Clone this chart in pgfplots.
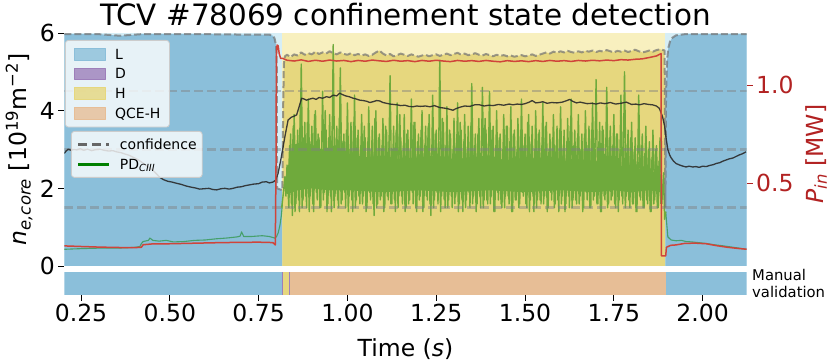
\documentclass[border=0pt]{standalone}
\usepackage{fontspec}
\setmainfont{DejaVu Sans}
\usepackage{pgfplots}
\pgfplotsset{compat=1.18}
\definecolor{Ld}{HTML}{8BBFDA}
\definecolor{Ll}{HTML}{D6EEF6}
\definecolor{Hd}{HTML}{E6D77E}
\definecolor{Hl}{HTML}{F8F0BF}
\definecolor{Dc}{HTML}{9D7FBA}
\definecolor{Qc}{HTML}{E7BE96}
\definecolor{grnH}{HTML}{6FAA3C}
\definecolor{grnL}{HTML}{46A06C}
\definecolor{redP}{HTML}{D0443A}
\definecolor{redax}{HTML}{B22222}
\definecolor{nblack}{HTML}{2B2B2B}
\newcommand{\tickfont}{\fontsize{23.5bp}{28bp}\selectfont}
\pgfplotsset{base/.style={scale only axis, width=682.4bp, xmin=0.203, xmax=2.124,
  axis line style={draw=none}, tick style={line width=0.8bp, black}, major tick length=6bp,
  tick align=outside, /pgf/number format/assume math mode=true,
  tick label style={font=\tickfont}, label style={font=\tickfont}},
  lgd/.style={draw=black!20, line width=0.8bp, fill=white, fill opacity=0.8, text opacity=1,
  rounded corners=3bp, font=\fontsize{14bp}{17bp}\selectfont, row sep=4.9bp, column sep=9.3bp,
  nodes={inner xsep=0bp, inner ysep=0bp, text height=12.5bp, text depth=2.3bp}}}
\begin{document}
\begin{tikzpicture}
\useasboundingbox (0,0) rectangle (830bp,362bp);
% ---------- top panel, left axis ----------
\begin{axis}[base, at={(64.3bp,96bp)}, anchor=south west, height=233bp,
  ymin=0, ymax=6, ytick={0,2,4,6}, xtick=\empty, ytick pos=left,
  title={TCV \#78069 confinement state detection},
  title style={font=\fontsize{29.4bp}{34bp}\selectfont, at={(axis description cs:0.5,1)}, anchor=base, yshift=2bp, inner sep=0bp},
  ylabel={{\itshape n\textsubscript{e,core}} [10\textsuperscript{19}m\textsuperscript{−2}]},
  ylabel style={at={(axis description cs:-0.0547,0.5)}, anchor=base, inner sep=0bp},
  line join=round]
% light backgrounds
\addplot[fill=Ll, draw=none] coordinates {(0.203,0)(0.203,6)(0.817,6)(0.817,0)} -- cycle;
\addplot[fill=Hl, draw=none] coordinates {(0.817,0)(0.817,6)(1.895,6)(1.895,0)} -- cycle;
\addplot[fill=Ll, draw=none] coordinates {(1.895,0)(1.895,6)(2.124,6)(2.124,0)} -- cycle;
% confidence fills
\addplot[fill=Ld, draw=none] coordinates {(0.203,5.97)(0.30,5.97)(0.33,5.95)(0.36,5.93)(0.39,5.95)(0.42,5.97)(0.60,5.97)(0.70,5.96)(0.78,5.96)(0.790,5.93)(0.795,5.86)(0.799,5.68)(0.801,5.3)(0.802,2.0)(0.817,1.95)} \closedcycle;
\addplot[fill=Hd, draw=none] coordinates {(0.817,1.95)(0.819,4.0)(0.821,5.2)(0.824,5.40)(0.83,5.44)(0.84,5.38)(0.85,5.45)(0.86,5.42)(0.87,5.50)(0.88,5.44)(0.89,5.48)(0.90,5.45)(0.91,5.52)(0.92,5.46)(0.93,5.50)(0.94,5.47)(0.95,5.53)(0.96,5.48)(0.97,5.45)(0.98,5.50)(0.99,5.46)(1.00,5.44)(1.01,5.48)(1.02,5.43)(1.03,5.46)(1.04,5.42)(1.05,5.45)(1.06,5.41)(1.07,5.44)(1.08,5.50)(1.09,5.55)(1.10,5.47)(1.11,5.42)(1.12,5.46)(1.13,5.40)(1.14,5.43)(1.15,5.47)(1.16,5.44)(1.17,5.41)(1.18,5.45)(1.19,5.42)(1.20,5.39)(1.21,5.42)(1.22,5.44)(1.23,5.40)(1.24,5.43)(1.25,5.45)(1.26,5.41)(1.27,5.44)(1.28,5.47)(1.29,5.43)(1.30,5.46)(1.31,5.49)(1.32,5.44)(1.33,5.47)(1.34,5.43)(1.35,5.45)(1.36,5.48)(1.37,5.44)(1.38,5.42)(1.39,5.46)(1.40,5.43)(1.41,5.40)(1.42,5.44)(1.43,5.41)(1.44,5.43)(1.45,5.40)(1.46,5.42)(1.47,5.39)(1.48,5.41)(1.49,5.43)(1.50,5.40)(1.51,5.42)(1.52,5.45)(1.53,5.41)(1.54,5.44)(1.55,5.47)(1.56,5.50)(1.57,5.47)(1.58,5.52)(1.59,5.49)(1.60,5.53)(1.61,5.50)(1.62,5.54)(1.63,5.51)(1.64,5.49)(1.65,5.53)(1.66,5.50)(1.67,5.54)(1.68,5.52)(1.69,5.55)(1.70,5.51)(1.71,5.54)(1.72,5.52)(1.73,5.56)(1.74,5.53)(1.75,5.50)(1.76,5.54)(1.77,5.52)(1.78,5.55)(1.79,5.51)(1.80,5.54)(1.81,5.57)(1.82,5.53)(1.83,5.50)(1.84,5.52)(1.85,5.55)(1.86,5.52)(1.87,5.56)(1.88,5.58)(1.893,5.55)(1.895,1.5)} \closedcycle;
\addplot[fill=Ld, draw=none] coordinates {(1.895,1.5)(1.897,4.5)(1.900,5.3)(1.903,5.6)(1.908,5.78)(1.915,5.88)(1.925,5.94)(1.95,5.97)(2.124,5.97)} \closedcycle;
% PD CIII in L phases
\addplot[grnL, line width=1.1bp] coordinates {(0.203,0.43)(0.23,0.44)(0.26,0.45)(0.30,0.46)(0.35,0.46)(0.38,0.47)(0.40,0.48)(0.416,0.50)(0.42,0.58)(0.425,0.63)(0.44,0.66)(0.444,0.72)(0.452,0.66)(0.47,0.64)(0.49,0.66)(0.51,0.62)(0.54,0.63)(0.57,0.66)(0.60,0.67)(0.63,0.70)(0.66,0.72)(0.69,0.75)(0.698,0.77)(0.702,0.88)(0.708,0.76)(0.73,0.76)(0.76,0.78)(0.78,0.76)(0.795,0.72)(0.80,0.75)(0.805,0.85)(0.81,1.05)(0.814,1.3)(0.817,1.6)};
\addplot[grnL, line width=1.1bp] coordinates {(1.896,1.4)(1.902,0.75)(1.911,0.67)(1.925,0.65)(1.94,0.66)(1.953,0.63)(1.97,0.62)(1.99,0.60)(2.01,0.58)(2.03,0.55)(2.057,0.52)(2.08,0.49)(2.103,0.46)(2.122,0.43)};
% PD CIII in H phase: dense core and fluctuations
\addplot[fill=grnH, draw=none] coordinates {(0.830,2.4)(0.845,3.1)(0.87,3.2)(0.90,3.1)(0.93,3.0)(0.96,3.1)(1.00,2.9)(1.05,2.8)(1.10,2.85)(1.15,2.75)(1.20,2.8)(1.25,2.85)(1.30,2.75)(1.35,2.8)(1.40,2.85)(1.45,2.7)(1.50,2.75)(1.55,2.8)(1.60,2.7)(1.65,2.75)(1.70,2.7)(1.75,2.6)(1.80,2.55)(1.85,2.45)(1.885,2.35)(1.885,1.9)(1.85,1.95)(1.80,1.9)(1.75,1.95)(1.70,1.9)(1.60,1.95)(1.50,1.9)(1.40,1.95)(1.30,1.9)(1.20,1.95)(1.10,1.9)(1.00,1.95)(0.95,1.95)(0.90,2.0)(0.86,1.95)(0.83,1.85)} -- cycle;
\addplot[grnH, line width=1.4bp] coordinates {(0.815,1.5)(0.820,1.9)(0.824,2.3)(0.827,1.8)
(0.830,2.6)(0.835,1.5)(0.840,3.4)(0.845,1.3)(0.850,3.9)(0.855,1.6)(0.860,3.5)(0.865,1.4)(0.870,5.2)(0.875,1.7)
(0.880,3.7)(0.885,1.5)(0.890,4.3)(0.895,1.8)(0.900,3.6)(0.905,1.4)(0.910,4.0)(0.915,1.7)(0.920,3.3)(0.925,1.5)
(0.930,4.5)(0.935,1.9)(0.940,3.5)(0.945,1.6)(0.950,3.9)(0.955,1.4)(0.960,5.7)(0.965,1.8)(0.970,3.6)(0.975,1.5)
(0.980,5.1)(0.985,1.7)(0.990,3.4)(0.995,1.5)(1.000,4.2)(1.005,1.8)(1.010,3.7)(1.015,1.4)(1.020,4.4)(1.025,1.7)
(1.030,3.5)(1.035,1.6)(1.040,3.9)(1.045,1.8)(1.050,3.3)(1.055,1.5)(1.060,4.1)(1.065,1.7)(1.070,3.6)(1.075,1.3)
(1.080,4.0)(1.085,1.6)(1.090,3.4)(1.095,1.8)(1.100,3.8)(1.105,1.5)(1.110,3.5)(1.115,1.7)(1.120,4.9)(1.125,1.6)
(1.130,3.6)(1.135,1.4)(1.140,4.2)(1.145,1.8)(1.150,3.3)(1.155,1.6)(1.160,3.9)(1.165,1.5)(1.170,3.5)(1.175,1.7)
(1.180,4.3)(1.185,1.6)(1.190,3.7)(1.195,1.4)(1.200,3.4)(1.205,1.8)(1.210,4.0)(1.215,1.5)(1.220,3.6)(1.225,1.7)
(1.230,3.9)(1.235,1.3)(1.240,4.4)(1.245,1.7)(1.250,3.5)(1.255,1.6)(1.260,5.3)(1.265,1.8)(1.270,3.7)(1.275,1.5)
(1.280,4.1)(1.285,1.7)(1.290,3.4)(1.295,1.5)(1.300,3.8)(1.305,1.8)(1.310,4.2)(1.315,1.6)(1.320,3.5)(1.325,1.4)
(1.330,3.9)(1.335,1.7)(1.340,3.6)(1.345,1.5)(1.350,4.7)(1.355,1.8)(1.360,3.4)(1.365,1.6)(1.370,3.8)(1.375,1.5)
(1.380,4.6)(1.385,1.7)(1.390,3.5)(1.395,1.6)(1.400,4.5)(1.405,1.8)(1.410,3.6)(1.415,1.4)(1.420,4.0)(1.425,1.7)
(1.430,3.4)(1.435,1.5)(1.440,3.9)(1.445,1.8)(1.450,3.6)(1.455,1.6)(1.460,4.1)(1.465,1.4)(1.470,3.5)(1.475,1.7)
(1.480,3.8)(1.485,1.6)(1.490,4.3)(1.495,1.8)(1.500,3.4)(1.505,1.5)(1.510,3.9)(1.515,1.7)(1.520,3.6)(1.525,1.4)
(1.530,4.0)(1.535,1.7)(1.540,3.5)(1.545,1.6)(1.550,4.2)(1.555,1.8)(1.560,3.7)(1.565,1.5)(1.570,3.4)(1.575,1.7)
(1.580,3.9)(1.585,1.6)(1.590,3.6)(1.595,1.4)(1.600,4.1)(1.605,1.8)(1.610,3.5)(1.615,1.6)(1.620,3.8)(1.625,1.5)
(1.630,4.3)(1.635,1.7)(1.640,3.5)(1.645,1.6)(1.650,3.9)(1.655,1.8)(1.660,3.4)(1.665,1.5)(1.670,4.0)(1.675,1.7)
(1.680,3.6)(1.685,1.5)(1.690,4.2)(1.695,1.8)(1.700,4.8)(1.705,1.6)(1.710,3.7)(1.715,1.4)(1.720,3.5)(1.725,1.7)
(1.730,4.6)(1.735,1.6)(1.740,3.6)(1.745,1.8)(1.750,3.9)(1.755,1.5)(1.760,3.4)(1.765,1.7)(1.770,4.4)(1.775,1.6)
(1.780,5.0)(1.785,1.8)(1.790,3.5)(1.795,1.5)(1.800,3.7)(1.805,1.6)(1.810,3.3)(1.815,1.4)(1.820,4.4)(1.825,1.7)
(1.830,3.4)(1.835,1.5)(1.840,3.6)(1.845,1.6)(1.850,3.2)(1.855,1.4)(1.860,3.5)(1.865,1.7)(1.870,3.1)(1.875,1.5)
(1.880,3.3)(1.885,1.6)(1.890,2.4)(1.893,1.2)(1.896,1.4)};
\addplot[grnH, line width=1.4bp] coordinates {
(0.8325,1.9)(0.8375,3.1)(0.8425,1.6)(0.8475,3.6)(0.8525,1.4)(0.8575,3.0)(0.8625,1.7)(0.8675,4.1)(0.8725,1.5)(0.8775,3.3)
(0.8825,1.8)(0.8875,3.7)(0.8925,1.4)(0.8975,3.2)(0.9025,1.6)(0.9075,3.9)(0.9125,1.9)(0.9175,3.4)(0.9225,1.5)(0.9275,3.0)
(0.9325,1.7)(0.9375,4.0)(0.9425,1.4)(0.9475,3.3)(0.9525,1.8)(0.9575,3.6)(0.9625,1.5)(0.9675,3.1)(0.9725,1.7)(0.9775,3.8)
(0.9825,1.6)(0.9875,3.2)(0.9925,1.9)(0.9975,3.5)(1.0025,1.4)(1.0075,3.0)(1.0125,1.7)(1.0175,3.7)(1.0225,1.5)(1.0275,3.3)
(1.0325,1.8)(1.0375,3.1)(1.0425,1.6)(1.0475,3.6)(1.0525,1.4)(1.0575,3.2)(1.0625,1.9)(1.0675,3.0)(1.0725,1.6)(1.0775,3.8)
(1.0825,1.5)(1.0875,3.3)(1.0925,1.7)(1.0975,3.1)(1.1025,1.4)(1.1075,3.6)(1.1125,1.8)(1.1175,3.2)(1.1225,1.6)(1.1275,3.0)
(1.1325,1.7)(1.1375,3.5)(1.1425,1.5)(1.1475,3.9)(1.1525,1.8)(1.1575,3.1)(1.1625,1.4)(1.1675,3.4)(1.1725,1.6)(1.1775,3.0)
(1.1825,1.9)(1.1875,3.7)(1.1925,1.5)(1.1975,3.2)(1.2025,1.7)(1.2075,3.5)(1.2125,1.4)(1.2175,3.1)(1.2225,1.8)(1.2275,3.6)
(1.2325,1.6)(1.2375,3.0)(1.2425,1.5)(1.2475,3.4)(1.2525,1.9)(1.2575,3.2)(1.2625,1.4)(1.2675,3.8)(1.2725,1.7)(1.2775,3.1)
(1.2825,1.5)(1.2875,3.5)(1.2925,1.8)(1.2975,3.0)(1.3025,1.6)(1.3075,3.3)(1.3125,1.4)(1.3175,3.7)(1.3225,1.7)(1.3275,3.2)
(1.3325,1.5)(1.3375,3.0)(1.3425,1.9)(1.3475,3.6)(1.3525,1.6)(1.3575,3.1)(1.3625,1.4)(1.3675,3.4)(1.3725,1.8)(1.3775,3.0)
(1.3825,1.5)(1.3875,3.8)(1.3925,1.7)(1.3975,3.2)(1.4025,1.6)(1.4075,3.5)(1.4125,1.4)(1.4175,3.1)(1.4225,1.9)(1.4275,3.3)
(1.4325,1.6)(1.4375,3.0)(1.4425,1.5)(1.4475,3.6)(1.4525,1.8)(1.4575,3.2)(1.4625,1.4)(1.4675,3.4)(1.4725,1.7)(1.4775,3.0)
(1.4825,1.5)(1.4875,3.5)(1.4925,1.9)(1.4975,3.1)(1.5025,1.6)(1.5075,3.7)(1.5125,1.4)(1.5175,3.2)(1.5225,1.8)(1.5275,3.0)
(1.5325,1.5)(1.5375,3.4)(1.5425,1.7)(1.5475,3.1)(1.5525,1.6)(1.5575,3.6)(1.5625,1.4)(1.5675,3.0)(1.5725,1.9)(1.5775,3.3)
(1.5825,1.5)(1.5875,3.1)(1.5925,1.7)(1.5975,3.5)(1.6025,1.6)(1.6075,3.0)(1.6125,1.4)(1.6175,3.2)(1.6225,1.8)(1.6275,3.6)
(1.6325,1.5)(1.6375,3.1)(1.6425,1.7)(1.6475,3.3)(1.6525,1.6)(1.6575,3.0)(1.6625,1.4)(1.6675,3.4)(1.6725,1.9)(1.6775,3.1)
(1.6825,1.5)(1.6875,3.5)(1.6925,1.7)(1.6975,3.0)(1.7025,1.6)(1.7075,3.2)(1.7125,1.4)(1.7175,3.6)(1.7225,1.8)(1.7275,3.0)
(1.7325,1.5)(1.7375,3.3)(1.7425,1.7)(1.7475,3.1)(1.7525,1.6)(1.7575,3.4)(1.7625,1.4)(1.7675,3.0)(1.7725,1.8)(1.7775,3.2)
(1.7825,1.5)(1.7875,2.9)(1.7925,1.7)(1.7975,3.3)(1.8025,1.6)(1.8075,3.0)(1.8125,1.4)(1.8175,2.8)(1.8225,1.8)(1.8275,3.1)
(1.8325,1.5)(1.8375,2.9)(1.8425,1.7)(1.8475,3.0)(1.8525,1.4)(1.8575,2.8)(1.8625,1.6)(1.8675,3.0)(1.8725,1.5)(1.8775,2.7)(1.8825,1.6)};
% reference levels
\addplot[gray, opacity=0.45, line width=2.5bp, dash pattern=on 9bp off 4bp] coordinates {(0.203,1.5)(2.124,1.5)};
\addplot[gray, opacity=0.45, line width=2.5bp, dash pattern=on 9bp off 4bp] coordinates {(0.203,3.0)(2.124,3.0)};
\addplot[gray, opacity=0.45, line width=2.5bp, dash pattern=on 9bp off 4bp] coordinates {(0.203,4.5)(2.124,4.5)};
% confidence line
\addplot[black!55, opacity=0.7, line width=2bp, dash pattern=on 7bp off 3bp] coordinates {(0.203,5.97)(0.30,5.97)(0.33,5.95)(0.36,5.93)(0.39,5.95)(0.42,5.97)(0.60,5.97)(0.70,5.96)(0.78,5.96)(0.790,5.93)(0.795,5.86)(0.799,5.68)(0.801,5.3)(0.802,2.0)(0.817,1.95)(0.819,4.0)(0.821,5.2)(0.824,5.40)(0.83,5.44)(0.84,5.38)(0.85,5.45)(0.86,5.42)(0.87,5.50)(0.88,5.44)(0.89,5.48)(0.90,5.45)(0.91,5.52)(0.92,5.46)(0.93,5.50)(0.94,5.47)(0.95,5.53)(0.96,5.48)(0.97,5.45)(0.98,5.50)(0.99,5.46)(1.00,5.44)(1.01,5.48)(1.02,5.43)(1.03,5.46)(1.04,5.42)(1.05,5.45)(1.06,5.41)(1.07,5.44)(1.08,5.50)(1.09,5.55)(1.10,5.47)(1.11,5.42)(1.12,5.46)(1.13,5.40)(1.14,5.43)(1.15,5.47)(1.16,5.44)(1.17,5.41)(1.18,5.45)(1.19,5.42)(1.20,5.39)(1.21,5.42)(1.22,5.44)(1.23,5.40)(1.24,5.43)(1.25,5.45)(1.26,5.41)(1.27,5.44)(1.28,5.47)(1.29,5.43)(1.30,5.46)(1.31,5.49)(1.32,5.44)(1.33,5.47)(1.34,5.43)(1.35,5.45)(1.36,5.48)(1.37,5.44)(1.38,5.42)(1.39,5.46)(1.40,5.43)(1.41,5.40)(1.42,5.44)(1.43,5.41)(1.44,5.43)(1.45,5.40)(1.46,5.42)(1.47,5.39)(1.48,5.41)(1.49,5.43)(1.50,5.40)(1.51,5.42)(1.52,5.45)(1.53,5.41)(1.54,5.44)(1.55,5.47)(1.56,5.50)(1.57,5.47)(1.58,5.52)(1.59,5.49)(1.60,5.53)(1.61,5.50)(1.62,5.54)(1.63,5.51)(1.64,5.49)(1.65,5.53)(1.66,5.50)(1.67,5.54)(1.68,5.52)(1.69,5.55)(1.70,5.51)(1.71,5.54)(1.72,5.52)(1.73,5.56)(1.74,5.53)(1.75,5.50)(1.76,5.54)(1.77,5.52)(1.78,5.55)(1.79,5.51)(1.80,5.54)(1.81,5.57)(1.82,5.53)(1.83,5.50)(1.84,5.52)(1.85,5.55)(1.86,5.52)(1.87,5.56)(1.88,5.58)(1.893,5.55)(1.895,1.5)(1.897,4.5)(1.900,5.3)(1.903,5.6)(1.908,5.78)(1.915,5.88)(1.925,5.94)(1.95,5.97)(2.124,5.97)};
% core density
\addplot[nblack, opacity=0.9, line width=1.3bp] coordinates {(0.203,2.90)(0.208,2.96)(0.214,3.01)(0.222,2.98)(0.230,3.00)(0.238,2.99)(0.248,3.02)(0.258,2.98)(0.268,3.01)(0.280,2.97)(0.292,3.00)(0.303,3.01)(0.315,2.98)(0.328,2.96)(0.340,2.97)(0.350,2.94)(0.362,2.92)(0.375,2.88)(0.386,2.85)(0.397,2.80)(0.408,2.75)(0.420,2.68)(0.432,2.60)(0.444,2.52)(0.455,2.44)(0.465,2.35)(0.472,2.28)(0.483,2.22)(0.495,2.18)(0.507,2.16)(0.519,2.13)(0.533,2.10)(0.546,2.06)(0.560,2.03)(0.572,2.01)(0.584,1.98)(0.597,1.99)(0.610,2.00)(0.621,1.97)(0.632,1.96)(0.644,1.99)(0.655,2.00)(0.667,1.98)(0.678,2.00)(0.690,2.03)(0.701,2.04)(0.713,2.07)(0.725,2.09)(0.737,2.11)(0.750,2.12)(0.760,2.16)(0.772,2.17)(0.780,2.14)(0.790,2.16)(0.798,2.21)(0.805,2.39)(0.814,2.81)(0.824,3.33)(0.833,3.76)(0.842,3.83)(0.850,3.86)(0.857,3.89)(0.864,4.10)(0.871,4.32)(0.878,4.30)(0.885,4.27)(0.894,4.30)(0.903,4.32)(0.912,4.29)(0.920,4.34)(0.930,4.32)(0.941,4.36)(0.950,4.34)(0.960,4.40)(0.970,4.38)(0.978,4.45)(0.987,4.41)(0.995,4.38)(1.005,4.36)(1.016,4.32)(1.025,4.30)(1.035,4.27)(1.045,4.26)(1.055,4.24)(1.063,4.21)(1.072,4.23)(1.082,4.26)(1.091,4.25)(1.100,4.21)(1.110,4.19)(1.120,4.17)(1.130,4.16)(1.140,4.15)(1.150,4.13)(1.162,4.14)(1.173,4.11)(1.184,4.10)(1.195,4.12)(1.205,4.11)(1.220,4.12)(1.232,4.10)(1.245,4.13)(1.260,4.08)(1.270,4.07)(1.282,4.05)(1.290,4.03)(1.297,4.01)(1.305,4.05)(1.317,4.09)(1.330,4.12)(1.345,4.11)(1.358,4.15)(1.372,4.15)(1.385,4.12)(1.398,4.14)(1.410,4.13)(1.425,4.16)(1.440,4.14)(1.455,4.17)(1.466,4.15)(1.478,4.17)(1.490,4.16)(1.500,4.18)(1.512,4.22)(1.520,4.26)(1.530,4.20)(1.540,4.21)(1.550,4.23)(1.562,4.19)(1.575,4.21)(1.590,4.20)(1.605,4.22)(1.618,4.26)(1.626,4.29)(1.634,4.24)(1.645,4.20)(1.655,4.22)(1.665,4.20)(1.675,4.18)(1.688,4.19)(1.700,4.17)(1.712,4.20)(1.725,4.18)(1.740,4.21)(1.755,4.17)(1.770,4.19)(1.785,4.22)(1.800,4.16)(1.812,4.17)(1.822,4.15)(1.835,4.18)(1.848,4.16)(1.859,4.15)(1.870,4.12)(1.878,4.06)(1.887,3.85)(1.893,3.60)(1.897,3.30)(1.902,3.00)(1.907,2.86)(1.911,2.79)(1.918,2.70)(1.925,2.64)(1.935,2.60)(1.945,2.57)(1.953,2.55)(1.962,2.57)(1.972,2.55)(1.981,2.56)(1.990,2.54)(2.000,2.57)(2.010,2.56)(2.020,2.59)(2.030,2.61)(2.038,2.64)(2.048,2.66)(2.057,2.70)(2.066,2.73)(2.075,2.76)(2.085,2.78)(2.094,2.82)(2.103,2.86)(2.112,2.89)(2.122,2.94)};
\end{axis}
% ---------- top panel, right axis (P_in) ----------
\begin{axis}[base, at={(64.3bp,96bp)}, anchor=south west, height=233bp,
  ymin=0.0765, ymax=1.265, ytick={0.5,1.0}, yticklabels={0.5,1.0}, xtick=\empty, ytick pos=right,
  ytick style={redax}, yticklabel style={text=redax},
  ylabel={\color{redax}{\itshape P\textsubscript{in}} [MW]},
  ylabel style={at={(axis description cs:1.1118,0.48)}, anchor=base, inner sep=0bp},
  legend style={lgd, at={(axis description cs:0.001,0.970)}, anchor=north west, inner xsep=9bp, inner ysep=6.4bp},
  legend cell align=left, line join=round]
\addplot[redP, line width=1.5bp, forget plot] coordinates {(0.203,0.179)(0.25,0.176)(0.30,0.173)(0.35,0.171)(0.40,0.170)(0.42,0.172)(0.425,0.185)(0.45,0.189)(0.50,0.190)(0.55,0.192)(0.60,0.194)(0.65,0.196)(0.70,0.197)(0.75,0.198)(0.79,0.196)(0.797,0.184)(0.799,0.60)(0.800,1.15)(0.802,1.204)(0.805,1.20)(0.808,1.16)(0.812,1.135)(0.817,1.136)(0.83,1.126)(0.85,1.122)(0.87,1.128)(0.89,1.120)(0.91,1.126)(0.93,1.121)(0.95,1.127)(0.97,1.122)(0.99,1.125)(1.01,1.119)(1.03,1.125)(1.05,1.121)(1.07,1.127)(1.09,1.123)(1.11,1.120)(1.13,1.126)(1.15,1.121)(1.17,1.124)(1.19,1.119)(1.21,1.125)(1.23,1.121)(1.25,1.126)(1.27,1.122)(1.29,1.119)(1.31,1.125)(1.33,1.121)(1.35,1.124)(1.37,1.120)(1.39,1.125)(1.41,1.121)(1.43,1.118)(1.45,1.124)(1.47,1.120)(1.49,1.123)(1.51,1.119)(1.53,1.124)(1.55,1.120)(1.57,1.125)(1.59,1.121)(1.61,1.124)(1.63,1.120)(1.65,1.125)(1.67,1.122)(1.69,1.126)(1.71,1.123)(1.73,1.127)(1.75,1.124)(1.77,1.129)(1.79,1.127)(1.81,1.131)(1.83,1.133)(1.85,1.140)(1.87,1.148)(1.883,1.160)(1.884,0.128)(1.896,0.128)(1.898,0.172)(1.91,0.182)(1.925,0.184)(1.95,0.192)(1.98,0.193)(2.01,0.190)(2.04,0.180)(2.07,0.172)(2.10,0.166)(2.124,0.162)};
\addlegendimage{legend image code/.code={\fill[Ld, sharp corners] (0bp,-5.85bp) rectangle (30.7bp,5.85bp);}}
\addlegendentry{L}
\addlegendimage{legend image code/.code={\fill[Dc, sharp corners] (0bp,-5.85bp) rectangle (30.7bp,5.85bp);}}
\addlegendentry{D}
\addlegendimage{legend image code/.code={\fill[Hd, sharp corners] (0bp,-5.85bp) rectangle (30.7bp,5.85bp);}}
\addlegendentry{H}
\addlegendimage{legend image code/.code={\fill[Qc, sharp corners] (0bp,-5.85bp) rectangle (30.7bp,5.85bp);}}
\addlegendentry{QCE-H}
\end{axis}
% ---------- second legend ----------
\begin{axis}[base, at={(64.3bp,96bp)}, anchor=south west, height=233bp, hide axis,
  ymin=0, ymax=6,
  legend style={lgd, at={(axis description cs:0.0098,0.5794)}, anchor=north west, inner xsep=5.6bp, inner ysep=5.75bp},
  legend cell align=left]
\addlegendimage{legend image code/.code={\draw[black!60, line width=3bp, dash pattern=on 9bp off 5bp, sharp corners] (0bp,0bp) -- (30.7bp,0bp);}}
\addlegendentry{confidence}
\addlegendimage{legend image code/.code={\draw[green!50!black, line width=2.6bp, sharp corners] (0bp,0bp) -- (30.7bp,0bp);}}
\addlegendentry{PD\textsubscript{\itshape CIII}}
\end{axis}
% ---------- manual validation band ----------
\begin{axis}[base, at={(64.3bp,67bp)}, anchor=south west, height=23bp,
  ymin=0, ymax=1, ytick=\empty, xtick pos=bottom,
  xtick={0.25,0.5,0.75,1.0,1.25,1.5,1.75,2.0},
  xticklabels={0.25,0.50,0.75,1.00,1.25,1.50,1.75,2.00},
  xlabel={Time ({\itshape s})},
  xlabel style={at={(axis description cs:0.5,-2.683)}, anchor=base, inner sep=0bp},
  extra description/.code={\node[anchor=west, align=left, inner sep=0bp, font=\fontsize{14.8bp}{16.6bp}\selectfont] at (1.0078,0.5) {Manual\\validation};}]
\addplot[fill=Ld, draw=none] coordinates {(0.203,0)(0.203,1)(0.815,1)(0.815,0)} -- cycle;
\addplot[fill=Dc, draw=none] coordinates {(0.815,0)(0.815,1)(0.819,1)(0.819,0)} -- cycle;
\addplot[fill=Hd, draw=none] coordinates {(0.819,0)(0.819,1)(0.836,1)(0.836,0)} -- cycle;
\addplot[fill=Dc, draw=none] coordinates {(0.836,0)(0.836,1)(0.839,1)(0.839,0)} -- cycle;
\addplot[fill=Qc, draw=none] coordinates {(0.839,0)(0.839,1)(1.896,1)(1.896,0)} -- cycle;
\addplot[fill=Ld, draw=none] coordinates {(1.896,0)(1.896,1)(2.124,1)(2.124,0)} -- cycle;
\end{axis}
\end{tikzpicture}
\end{document}
